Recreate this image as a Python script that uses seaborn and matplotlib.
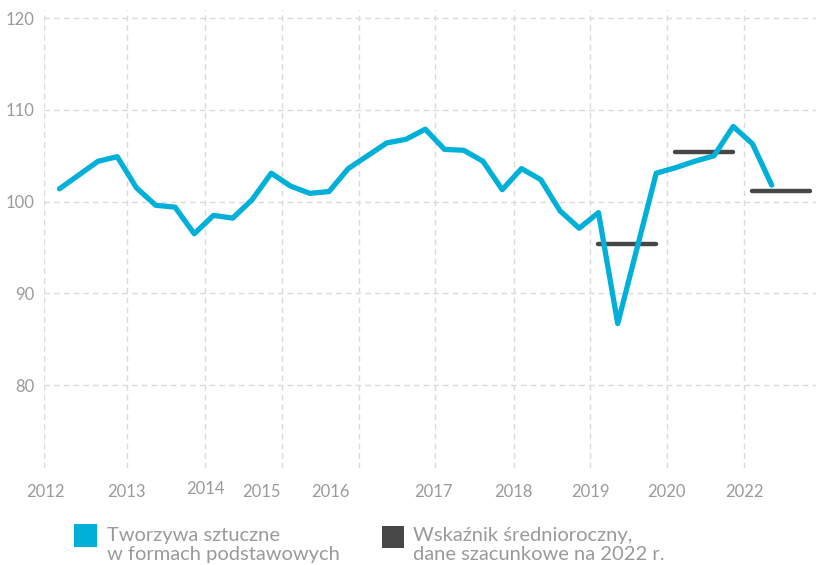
import numpy as np
import pandas as pd
import matplotlib
matplotlib.use("Agg")
import matplotlib.pyplot as plt
from matplotlib.patches import Rectangle
import matplotlib.transforms as mtransforms
import seaborn as sns

# Quarterly index, 2012 Q1 onwards
values = [101.4, 102.9, 104.4, 104.9, 101.5, 99.6, 99.4, 96.5,
          98.5, 98.2, 100.2, 103.1, 101.7, 100.9, 101.1, 103.6,
          105.0, 106.4, 106.8, 107.9, 105.7, 105.6, 104.4, 101.3,
          103.6, 102.4, 99.0, 97.1, 98.8, 86.7, 94.9, 103.1,
          103.7, 104.4, 105.0, 108.2, 106.3, 101.8]

# Annual averages (estimate for 2022) and the quarter range each spans
avg_values = [95.4, 105.4, 101.2]
avg_start = [28, 32, 36]
avg_end = [31, 35, 39]

year_labels = ["2012", "2013", "2014", "2015", "2016",
               "2017", "2018", "2019", "2020", "2022"]
year_label_pos = [-0.75, 3.49, 7.56, 10.51, 14.05,
                  19.45, 23.56, 27.56, 31.54, 35.56]
year_grid_pos = [-0.79, 3.5, 7.55, 11.55, 15.55, 19.5, 23.6, 27.57, 31.57, 35.57]
y_ticks = [80, 90, 100, 110, 120]

series_label = ["Tworzywa sztuczne", "w formach podstawowych"]
avg_label = ["Wskaźnik średnioroczny,", "dane szacunkowe na 2022 r."]

BLUE = "#00b0d8"
DARK = "#474747"
TXT = "#9a9a9a"
GRID = "#dadada"

sns.set_theme(style="white")
plt.rcParams["font.family"] = ["Lato", "DejaVu Sans"]

fig = plt.figure(figsize=(8.19, 5.65), dpi=100)
ax = fig.add_axes([44.3 / 819, 1 - 468 / 565, (816 - 44.3) / 819, (468 - 10) / 565])

df = pd.DataFrame({"q": np.arange(len(values)), "v": values})

# grid
for y in y_ticks:
    ax.axhline(y, color=GRID, lw=1, ls=(0, (4, 3)), zorder=0)
for x in year_grid_pos:
    ax.axvline(x, color=GRID, lw=1, ls=(0, (4, 3)), zorder=0)

ax.hlines(avg_values, avg_start, avg_end, colors=DARK, lw=3.2,
          capstyle="round", zorder=2)

sns.lineplot(data=df, x="q", y="v", ax=ax, color=BLUE, lw=3.8, zorder=3,
             solid_capstyle="round", solid_joinstyle="round")

ax.set_xlim(-0.79, 39.3)
ax.set_ylim(70.95, 120.9)
ax.set_xlabel("")
ax.set_ylabel("")
for s in ax.spines.values():
    s.set_visible(False)

ax.set_yticks(y_ticks)
ax.set_yticklabels([str(t) for t in y_ticks])
ax.set_xticks(year_label_pos)
ax.set_xticklabels(year_labels)
ax.tick_params(axis="both", length=0, colors=TXT, labelsize=12)
ax.tick_params(axis="y", pad=7)
ax.tick_params(axis="x", pad=11.5)
# the 2014 label sits a little higher
lab14 = ax.get_xticklabels()[2]
lab14.set_transform(lab14.get_transform() +
                    mtransforms.ScaledTranslation(0, 1.8 / 72, fig.dpi_scale_trans))

# legend
def fx(px):
    return px / 819

def fy(py):
    return 1 - py / 565

fig.add_artist(Rectangle((fx(74), fy(546.7)), 22.7 / 819, 22.7 / 565,
                         transform=fig.transFigure, color=BLUE, lw=0))
fig.add_artist(Rectangle((fx(381.7), fy(548.3)), 22.7 / 819, 22.7 / 565,
                         transform=fig.transFigure, color=DARK, lw=0))
for x0, lines in ((106.7, series_label), (412.7, avg_label)):
    for line, base in zip(lines, (540.7, 560.0)):
        fig.text(fx(x0), fy(base), line, color=TXT, fontsize=14.5,
                 va="baseline", ha="left")

fig.savefig("out.png", dpi=100)
